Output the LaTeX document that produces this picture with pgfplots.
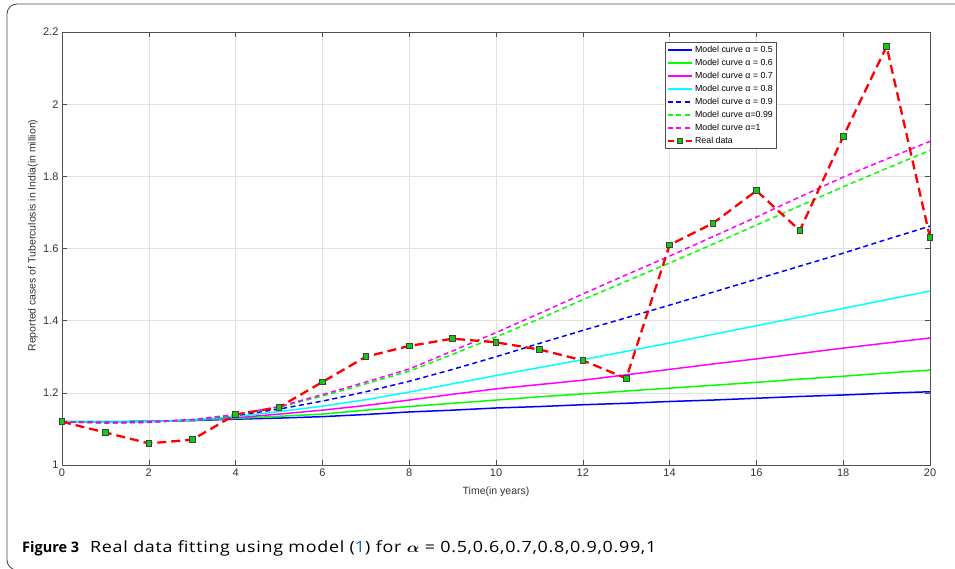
\documentclass[border=0pt]{standalone}
\usepackage{pgfplots}
\pgfplotsset{compat=1.18}
\usepackage{fontspec}
\setmainfont{Liberation Sans}
\newfontfamily\capfont{Open Sans}
\definecolor{axgray}{RGB}{80,80,80}
\definecolor{capblue}{RGB}{40,90,200}
\definecolor{mkgreen}{RGB}{20,200,20}
\definecolor{mblue}{RGB}{0,0,255}
\definecolor{mgreen}{RGB}{0,255,0}
\definecolor{mmag}{RGB}{255,0,255}
\definecolor{mcyan}{RGB}{0,255,255}
\definecolor{mred}{RGB}{255,0,0}
\begin{document}
\begin{tikzpicture}
\path[use as bounding box] (0pt,0pt) rectangle (955pt,568pt);
\draw[axgray, line width=0.9pt, rounded corners=10pt] (960pt,564pt) -- (7pt,564pt) -- (7pt,-2pt) -- (30pt,-2pt);
\begin{axis}[
  at={(62pt,103pt)}, anchor=south west, scale only axis,
  width=868pt, height=433pt,
  xmin=0, xmax=20, ymin=1, ymax=2.2,
  xtick={0,2,4,6,8,10,12,14,16,18,20},
  ytick={1,1.2,1.4,1.6,1.8,2,2.2},
  yticklabels={1,1.2,1.4,1.6,1.8,2,2.2},
  grid=major, grid style={black!12, line width=0.5pt},
  tick align=inside, major tick length=5pt,
  axis line style={axgray, line width=0.6pt},
  tick style={axgray, line width=0.5pt},
  /pgf/number format/assume math mode=true,
  ticklabel style={font=\fontsize{11}{13}\selectfont, text=black!80},
  xlabel={Time(in years)},
  ylabel={Reported cases of Tuberculosis in India(in million)},
  label style={font=\fontsize{10.5}{12}\selectfont, text=black!80},
  x label style={at={(axis description cs:0.5,0)}, anchor=center, yshift=-27pt},
  y label style={at={(axis description cs:-0.0334,0.53)}, anchor=center},
  legend style={at={(axis description cs:0.6947,0.977)}, anchor=north west,
    font=\fontsize{8.8}{10}\selectfont, draw=axgray,
    inner sep=1.5pt, row sep=1.2pt, cells={anchor=west}},
  legend image code/.code={\draw[mark repeat=2, mark phase=2, #1] plot coordinates {(0pt,0pt) (12pt,0pt) (24pt,0pt)};},
  legend image post style={line width=2pt},
]
\addplot[mblue, line width=1.5pt] coordinates {
(0,1.120)(1,1.120)(2,1.121)(3,1.123)(4,1.127)(5,1.130)(6,1.134)(7,1.140)(8,1.147)(9,1.152)(10,1.158)
(11,1.162)(12,1.167)(13,1.171)(14,1.176)(15,1.180)(16,1.185)(17,1.190)(18,1.194)(19,1.199)(20,1.203)};
\addlegendentry{Model curve α = 0.5}
\addplot[mgreen, line width=1.5pt] coordinates {
(0,1.120)(1,1.120)(2,1.121)(3,1.124)(4,1.129)(5,1.135)(6,1.141)(7,1.152)(8,1.162)(9,1.171)(10,1.180)
(11,1.189)(12,1.197)(13,1.205)(14,1.213)(15,1.221)(16,1.229)(17,1.238)(18,1.246)(19,1.255)(20,1.263)};
\addlegendentry{Model curve α = 0.6}
\addplot[mmag, line width=1.5pt] coordinates {
(0,1.120)(1,1.119)(2,1.121)(3,1.125)(4,1.131)(5,1.141)(6,1.152)(7,1.165)(8,1.180)(9,1.196)(10,1.211)
(11,1.223)(12,1.235)(13,1.250)(14,1.265)(15,1.280)(16,1.294)(17,1.309)(18,1.324)(19,1.338)(20,1.352)};
\addlegendentry{Model curve α = 0.7}
\addplot[mcyan, line width=1.5pt] coordinates {
(0,1.120)(1,1.119)(2,1.120)(3,1.125)(4,1.134)(5,1.148)(6,1.163)(7,1.181)(8,1.202)(9,1.225)(10,1.248)
(11,1.270)(12,1.292)(13,1.315)(14,1.338)(15,1.362)(16,1.386)(17,1.410)(18,1.434)(19,1.458)(20,1.482)};
\addlegendentry{Model curve α = 0.8}
\addplot[mblue, line width=1.5pt, dash pattern=on 5pt off 3.5pt] coordinates {
(0,1.120)(1,1.118)(2,1.119)(3,1.125)(4,1.137)(5,1.155)(6,1.177)(7,1.203)(8,1.232)(9,1.265)(10,1.300)
(11,1.337)(12,1.373)(13,1.408)(14,1.443)(15,1.479)(16,1.515)(17,1.551)(18,1.587)(19,1.625)(20,1.662)};
\addlegendentry{Model curve α = 0.9}
\addplot[mgreen, line width=1.5pt, dash pattern=on 5pt off 3.5pt] coordinates {
(0,1.120)(1,1.116)(2,1.118)(3,1.125)(4,1.139)(5,1.160)(6,1.191)(7,1.225)(8,1.260)(9,1.307)(10,1.355)
(11,1.405)(12,1.458)(13,1.509)(14,1.560)(15,1.612)(16,1.665)(17,1.718)(18,1.771)(19,1.822)(20,1.872)};
\addlegendentry{Model curve α=0.99}
\addplot[mmag, line width=1.5pt, dash pattern=on 5pt off 3.5pt] coordinates {
(0,1.120)(1,1.116)(2,1.118)(3,1.126)(4,1.140)(5,1.162)(6,1.195)(7,1.230)(8,1.266)(9,1.316)(10,1.367)
(11,1.420)(12,1.474)(13,1.527)(14,1.579)(15,1.633)(16,1.687)(17,1.743)(18,1.798)(19,1.848)(20,1.897)};
\addlegendentry{Model curve α=1}
\addplot[mred, line width=2.3pt, dash pattern=on 9pt off 5pt, mark=square*, mark size=2.8pt,
  mark options={solid, fill=mkgreen, draw=black!75, line width=1pt},
  legend image post style={line width=2.4pt, dash pattern=on 6pt off 3pt}] coordinates {
(0,1.12)(1,1.09)(2,1.06)(3,1.07)(4,1.14)(5,1.16)(6,1.23)(7,1.30)(8,1.33)(9,1.35)(10,1.34)
(11,1.32)(12,1.29)(13,1.24)(14,1.61)(15,1.67)(16,1.76)(17,1.65)(18,1.91)(19,2.16)(20,1.63)};
\addlegendentry{Real data}
\end{axis}
\node[anchor=base west, inner sep=0pt] at (22pt,16pt) {\capfont\fontsize{14.5}{18}\selectfont\textbf{Figure 3}\hspace{11pt}\resizebox{566pt}{\height}{\fontsize{15.5}{18}\selectfont\addfontfeatures{LetterSpace=4}Real data fitting using model ({\color{capblue}1}) for {\boldmath$\alpha$} = 0.5,0.6,0.7,0.8,0.9,0.99,1}};
\end{tikzpicture}
\end{document}
